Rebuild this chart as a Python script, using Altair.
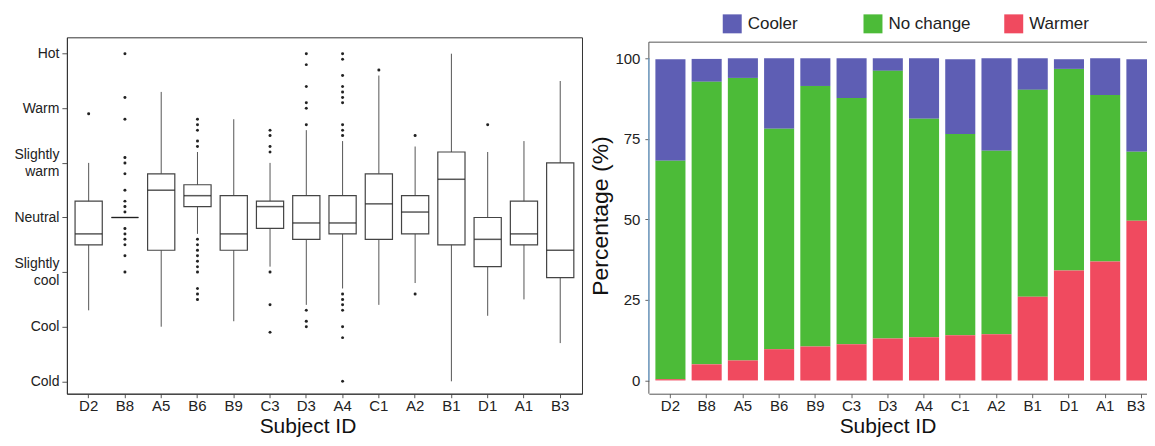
import json
import altair as alt
import pandas as pd

FONT = "Liberation Sans"

ids = ["D2", "B8", "A5", "B6", "B9", "C3", "D3", "A4", "C1", "A2", "B1", "D1", "A1", "B3"]
sensation_names = ["Cold", "Cool", ["Slightly", "cool"], "Neutral", ["Slightly", "warm"], "Warm", "Hot"]
sensation_ticks = [-3, -2, -1, 0, 1, 2, 3]

# box-plot statistics (thermal sensation, -3 .. +3)
box_low = [-1.7, 0.0, -2.0, -0.3, -1.9, -0.9, -1.6, -1.3, -1.6, -1.2, -3.0, -1.8, -1.5, -2.3]
box_q1 = [-0.5, 0.0, -0.6, 0.2, -0.6, -0.2, -0.4, -0.3, -0.4, -0.3, -0.5, -0.9, -0.5, -1.1]
box_med = [-0.3, 0.0, 0.5, 0.4, -0.3, 0.2, -0.1, -0.1, 0.25, 0.1, 0.7, -0.4, -0.3, -0.6]
box_q3 = [0.3, 0.0, 0.8, 0.6, 0.4, 0.3, 0.4, 0.4, 0.8, 0.4, 1.2, 0.0, 0.3, 1.0]
box_high = [1.0, 0.0, 2.3, 1.2, 1.8, 1.0, 1.6, 1.4, 2.6, 1.3, 3.0, 1.2, 1.4, 2.5]

out_id = (["D2"]
          + ["B8"] * 16
          + ["B6"] * 15
          + ["C3"] * 7
          + ["D3"] * 9
          + ["A4"] * 17
          + ["C1"] + ["A2"] * 2 + ["D1"])
out_val = ([1.9]
           + [3.0, 2.2, 1.8, 1.1, 1.0, 0.8, 0.5, 0.3, 0.2, 0.1, -0.2, -0.3, -0.4, -0.5, -0.7, -1.0]
           + [1.8, 1.7, 1.6, 1.4, 1.3, -0.4, -0.5, -0.6, -0.7, -0.8, -0.9, -1.0, -1.3, -1.4, -1.5]
           + [1.6, 1.5, 1.3, 1.2, -1.0, -1.6, -2.1]
           + [3.0, 2.8, 2.4, 2.1, 2.0, 1.7, -1.7, -1.9, -2.0]
           + [3.0, 2.9, 2.6, 2.4, 2.3, 2.2, 2.1, 1.7, 1.6, 1.5, -1.4, -1.5, -1.6, -1.7, -2.0, -2.2, -3.0]
           + [2.7] + [1.5, -1.4] + [1.7])

# percentage of preference votes
categories = ["Cooler", "No change", "Warmer"]
colors = ["#5e5eb4", "#4cbb38", "#f04a5f"]
warmer = [0.4, 5.0, 6.2, 9.7, 10.5, 11.2, 13.0, 13.4, 14.0, 14.3, 26.0, 34.1, 36.9, 49.6]
nochange = [67.8, 87.7, 87.7, 68.4, 80.9, 76.5, 83.1, 67.8, 62.5, 57.0, 64.2, 62.6, 51.7, 21.4]
cooler = [31.5, 7.1, 6.1, 21.9, 8.6, 12.3, 3.9, 18.8, 23.2, 28.7, 9.8, 3.0, 11.4, 28.7]
pct_ticks = [0, 25, 50, 75, 100]

box_df = pd.DataFrame({"id": ids, "low": box_low, "q1": box_q1, "med": box_med,
                       "q3": box_q3, "high": box_high})
out_df = pd.DataFrame({"id": out_id, "val": out_val})
bars_df = pd.DataFrame({
    "id": ids * 3,
    "cat": ["Cooler"] * 14 + ["No change"] * 14 + ["Warmer"] * 14,
    "pct": cooler + nochange + warmer,
    "ord": [2] * 14 + [1] * 14 + [0] * 14,
})

label_expr = json.dumps(sensation_names) + "[datum.value + 3]"

LW, LH = 516, 357
RW, RH = 515, 357

xl = alt.X("id:N", sort=ids,
           scale=alt.Scale(paddingInner=0.25, paddingOuter=0.225),
           axis=alt.Axis(title="Subject ID", labelAngle=0, labelFontSize=15, tickSize=4,
                         labelPadding=1, titleFontSize=21, titleFontWeight="normal",
                         titleX=241, titleY=39, titleBaseline="alphabetic",
                         domainColor="#333", tickColor="#555", labelColor="#222"))
yl_scale = alt.Scale(domain=[-3.227, 3.3], nice=False, zero=False)
yl_axis = alt.Axis(title=None, values=sensation_ticks, labelExpr=label_expr, labelFontSize=14,
                   labelLineHeight=17, tickSize=5, labelPadding=3, grid=False,
                   labelOffset={"condition": {"test": "abs(datum.value) == 1", "value": -8.5},
                                "value": 0},
                   domainColor="#333", tickColor="#555", labelColor="#222")

whisk = alt.Chart(box_df).mark_rule(color="#555", strokeWidth=1).encode(
    x=xl, y=alt.Y("low:Q", scale=yl_scale, axis=yl_axis), y2="high:Q")
boxes = alt.Chart(box_df).mark_bar(fill="white", stroke="#444", strokeWidth=1.2).encode(
    x=xl, y=alt.Y("q1:Q", scale=yl_scale, axis=yl_axis), y2="q3:Q")
meds = alt.Chart(box_df).mark_tick(color="#111", size=27, thickness=1.5).encode(
    x=xl, y=alt.Y("med:Q", scale=yl_scale, axis=yl_axis))
outs = alt.Chart(out_df).mark_circle(color="#222", size=9, opacity=1).encode(
    x=xl, y=alt.Y("val:Q", scale=yl_scale, axis=yl_axis))

left = alt.layer(whisk, boxes, meds, outs).properties(
    width=LW, height=LH, view=alt.ViewBackground(stroke="#333", strokeWidth=1))

yr_scale = alt.Scale(domain=[-4.12, 106.5], nice=False, zero=False)
xr = alt.X("id:N", sort=ids,
           scale=alt.Scale(paddingInner=0.17, paddingOuter=0.18),
           axis=alt.Axis(title="Subject ID", labelAngle=0, labelFontSize=15, tickSize=4,
                         labelPadding=1, titleFontSize=21, titleFontWeight="normal",
                         titleX=239, titleY=39, titleBaseline="alphabetic",
                         labelOffset={"condition": {"test": "datum.value == 'B3'", "value": -5.5},
                                      "value": 0},
                         domainColor="#555", tickColor="#666", labelColor="#222"))
bars = alt.Chart(bars_df).mark_bar(y2Offset=2.7).encode(
    x=xr,
    y=alt.Y("pct:Q", stack="zero", scale=yr_scale,
            axis=alt.Axis(title="Percentage (%)", values=pct_ticks, labelFontSize=15,
                          tickSize=4, labelPadding=5, domain=False, grid=False,
                          titleFontSize=23, titleFontWeight="normal", titlePadding=2,
                          tickColor="#666", labelColor="#222")),
    color=alt.Color("cat:N", scale=alt.Scale(domain=categories, range=colors),
                    legend=alt.Legend(title=None, orient="none", legendX=74, legendY=-23,
                                      direction="horizontal", columns=3, symbolType="square",
                                      symbolSize=361, symbolStrokeWidth=0, labelFontSize=17,
                                      labelOffset=6, columnPadding=33, gridAlign="all",
                                      labelColor="#222")),
    order=alt.Order("ord:Q"),
)
frame_df = pd.DataFrame({"top": [105.0], "bottom": [-4.12], "zero": [0.0], "hundred": [100.0]})
top_rule = alt.Chart(frame_df).mark_rule(color="#555", strokeWidth=1).encode(
    y=alt.Y("top:Q", scale=yr_scale))
left_rule = alt.Chart(frame_df).mark_rule(color="#555", strokeWidth=1).encode(
    x=alt.value(0), y=alt.Y("top:Q", scale=yr_scale), y2="bottom:Q")
blue_rule = alt.Chart(frame_df).mark_rule(color="#74a9d8", strokeWidth=1.2).encode(
    x=alt.value(0), y=alt.Y("zero:Q", scale=yr_scale), y2="hundred:Q")

right = alt.layer(bars, top_rule, left_rule, blue_rule).properties(
    width=RW, height=RH, view=alt.ViewBackground(strokeWidth=0))

chart = alt.hconcat(left, right, spacing=67, bounds="flush").resolve_scale(
    color="independent", x="independent", y="independent"
).properties(
    padding={"left": 5, "top": 6, "right": -17, "bottom": -1}
).configure(font=FONT).configure_view(strokeWidth=0).configure_axis(
    labelFont=FONT, titleFont=FONT, titleColor="#111"
).configure_legend(labelFont=FONT)

chart.save("out.html", embed_options={"renderer": "svg", "actions": False})
